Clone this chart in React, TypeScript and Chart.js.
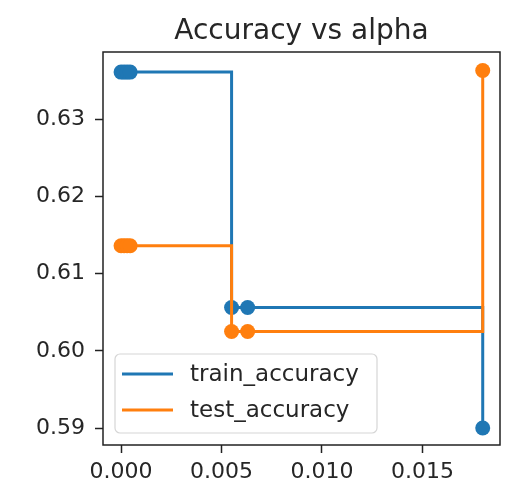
import React, { useEffect, useRef } from "react";
import { Chart, registerables } from "chart.js";

Chart.register(...registerables);

// ---- data ----
const alphas = [0, 0.00015, 0.0003, 0.00045, 0.0055, 0.0063, 0.018];
const trainAccuracy = [0.6361, 0.6361, 0.6361, 0.6361, 0.6056, 0.6056, 0.59];
const testAccuracy = [0.6136, 0.6136, 0.6136, 0.6136, 0.6025, 0.6025, 0.6363];
const xTicks = [0, 0.005, 0.01, 0.015];
const yTicks = [0.59, 0.6, 0.61, 0.62, 0.63];
const seriesNames = ["train_accuracy", "test_accuracy"];
const seriesColors = ["#1f77b4", "#ff7f0e"];
const titleText = "Accuracy vs alpha";

const FONT = "'DejaVu Sans', 'Liberation Sans', sans-serif";
const TEXT = "#262626";

const overlay = {
  id: "overlay",
  afterDraw(chart: any) {
    const { ctx, chartArea } = chart;
    const { left, right, top, bottom } = chartArea;
    ctx.save();
    // frame
    ctx.strokeStyle = "#222";
    ctx.lineWidth = 1.5;
    ctx.strokeRect(left, top, right - left, bottom - top);
    // title
    ctx.fillStyle = TEXT;
    ctx.font = `28px ${FONT}`;
    ctx.textAlign = "center";
    ctx.textBaseline = "alphabetic";
    ctx.fillText(titleText, (left + right) / 2, 39);
    // legend
    const lx = 115, ly = 354, lw = 262, lh = 79;
    ctx.beginPath();
    ctx.roundRect(lx, ly, lw, lh, 5);
    ctx.fillStyle = "rgba(255,255,255,0.85)";
    ctx.fill();
    ctx.strokeStyle = "#d6d6d6";
    ctx.lineWidth = 1.2;
    ctx.stroke();
    ctx.font = `23px ${FONT}`;
    ctx.textAlign = "left";
    ctx.textBaseline = "middle";
    seriesNames.forEach((name, i) => {
      const y = 374 + i * 36;
      ctx.strokeStyle = seriesColors[i];
      ctx.lineWidth = 3;
      ctx.beginPath();
      ctx.moveTo(122, y);
      ctx.lineTo(173, y);
      ctx.stroke();
      ctx.fillStyle = TEXT;
      ctx.fillText(name, 190, y + 1);
    });
    ctx.restore();
  },
};

export default function App() {
  const ref = useRef<HTMLCanvasElement>(null);
  useEffect(() => {
    document.body.style.margin = "0";
    const canvas = ref.current!;
    const tickFont = { family: FONT, size: 22 };
    const chart = new Chart(canvas, {
      type: "line",
      data: {
        datasets: [
          {
            label: seriesNames[0],
            data: alphas.map((a, i) => ({ x: a, y: trainAccuracy[i] })),
            stepped: "before",
            borderColor: seriesColors[0],
            backgroundColor: seriesColors[0],
            borderWidth: 3,
            pointRadius: 7.5,
            pointHoverRadius: 7.5,
            pointBorderWidth: 0,
            order: 2,
          },
          {
            label: seriesNames[1],
            data: alphas.map((a, i) => ({ x: a, y: testAccuracy[i] })),
            stepped: "before",
            borderColor: seriesColors[1],
            backgroundColor: seriesColors[1],
            borderWidth: 3,
            pointRadius: 7.5,
            pointHoverRadius: 7.5,
            pointBorderWidth: 0,
            order: 1,
          },
        ],
      },
      options: {
        responsive: false,
        animation: false,
        devicePixelRatio: 1,
        layout: { padding: { left: 0, right: 20, top: 52, bottom: 0 } },
        plugins: {
          legend: { display: false },
          tooltip: { enabled: false },
          title: { display: false },
        },
        scales: {
          x: {
            type: "linear",
            min: -0.0009,
            max: 0.01886,
            afterBuildTicks: (s: any) => {
              s.ticks = xTicks.map((v) => ({ value: v }));
            },
            afterFit: (s: any) => {
              s.height = 48;
            },
            ticks: {
              callback: (v: any) => Number(v).toFixed(3),
              font: tickFont,
              color: TEXT,
              padding: 6,
              maxRotation: 0,
              autoSkip: false,
            },
            grid: {
              drawOnChartArea: false,
              tickLength: 8,
              tickColor: "#222",
              tickWidth: 1.5,
            },
            border: { display: false },
          },
          y: {
            type: "linear",
            min: 0.5878,
            max: 0.6387,
            afterBuildTicks: (s: any) => {
              s.ticks = yTicks.map((v) => ({ value: v }));
            },
            afterFit: (s: any) => {
              s.width = 103;
            },
            ticks: {
              callback: (v: any) => Number(v).toFixed(2),
              font: tickFont,
              color: TEXT,
              padding: 10,
              autoSkip: false,
            },
            grid: {
              drawOnChartArea: false,
              tickLength: 8,
              tickColor: "#222",
              tickWidth: 1.5,
            },
            border: { display: false },
          },
        },
      },
      plugins: [overlay],
    } as any);
    return () => chart.destroy();
  }, []);
  return (
    <div style={{ width: 520, height: 493, background: "#fff" }}>
      <canvas ref={ref} width={520} height={493} />
    </div>
  );
}
